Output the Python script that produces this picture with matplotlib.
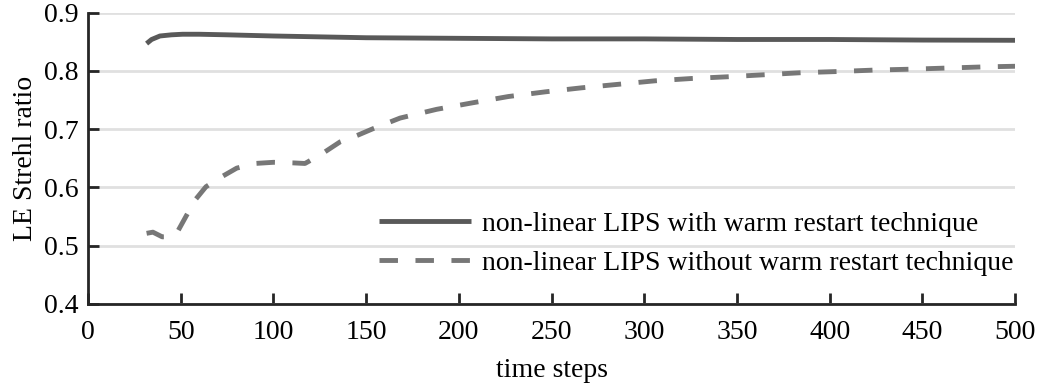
import matplotlib
matplotlib.use("Agg")
import matplotlib.pyplot as plt

# DATA
warm_x = [31.6, 34.3, 38.8, 45, 51, 60, 75, 100, 150, 200, 250, 300, 350, 400, 450, 500]
warm_y = [0.847, 0.854, 0.860, 0.862, 0.863, 0.863, 0.862, 0.860, 0.857, 0.856, 0.855, 0.855, 0.854, 0.854, 0.853, 0.8526]

cold_x = [31.6, 35, 40, 45, 47.8, 52.3, 57.7, 63.6, 72, 80.2, 90, 100, 110.7, 117, 118.7,
          127.8, 135.9, 145.8, 153.9, 168.3, 188, 207, 226.7, 246.5, 266.3, 286, 305.8,
          325.6, 345.4, 365.2, 385, 404.7, 424.5, 444.3, 464, 484, 500]
cold_y = [0.521, 0.523, 0.515, 0.515, 0.521, 0.547, 0.578, 0.601, 0.618, 0.633, 0.641, 0.643,
          0.642, 0.641, 0.644, 0.661, 0.678, 0.690, 0.701, 0.719, 0.734, 0.745, 0.756, 0.764,
          0.771, 0.777, 0.783, 0.787, 0.790, 0.7935, 0.797, 0.799, 0.8015, 0.803, 0.805,
          0.807, 0.808]

labels = ["non-linear LIPS with warm restart technique",
          "non-linear LIPS without warm restart technique"]
xticks = [0, 50, 100, 150, 200, 250, 300, 350, 400, 450, 500]
yticks = [0.4, 0.5, 0.6, 0.7, 0.8, 0.9]

plt.rcParams['font.family'] = ['Liberation Serif', 'DejaVu Serif']
plt.rcParams['font.size'] = 20

fig = plt.figure(figsize=(10.39, 3.85), dpi=100)
ax = fig.add_axes([0.0847, 0.211, 0.977 - 0.0847, 0.967 - 0.211])

ax.plot(warm_x, warm_y, color='#595959', lw=3.5, solid_capstyle='butt', label=labels[0], zorder=3)
ax.plot(cold_x, cold_y, color='#777777', lw=3.5, dashes=(3.8, 3.6), label=labels[1], zorder=3)

ax.set_xlim(0, 500)
ax.set_ylim(0.4, 0.9)
ax.set_xticks(xticks)
ax.set_yticks(yticks)
ax.set_yticklabels([f"{v:.1f}" for v in yticks])
ax.yaxis.grid(True, color='#e0e0e0', lw=2)
ax.set_axisbelow(True)

for s in ['top', 'right']:
    ax.spines[s].set_visible(False)
for s in ['left', 'bottom']:
    ax.spines[s].set_linewidth(2)
    ax.spines[s].set_color('#262626')
ax.tick_params(direction='in', length=8, width=2, color='#262626', labelsize=20)
ax.tick_params(axis='x', pad=12)
ax.tick_params(axis='y', pad=7)

ax.set_xlabel("time steps", fontsize=20, labelpad=9)
ax.set_ylabel("LE Strehl ratio", fontsize=20, labelpad=4)

ax.legend(loc='lower right', bbox_to_anchor=(0.998, 0.095), borderaxespad=0, borderpad=0,
          frameon=False, fontsize=20, handlelength=3.3, handletextpad=0.4, labelspacing=0.5)

fig.savefig("out.png", dpi=100)
